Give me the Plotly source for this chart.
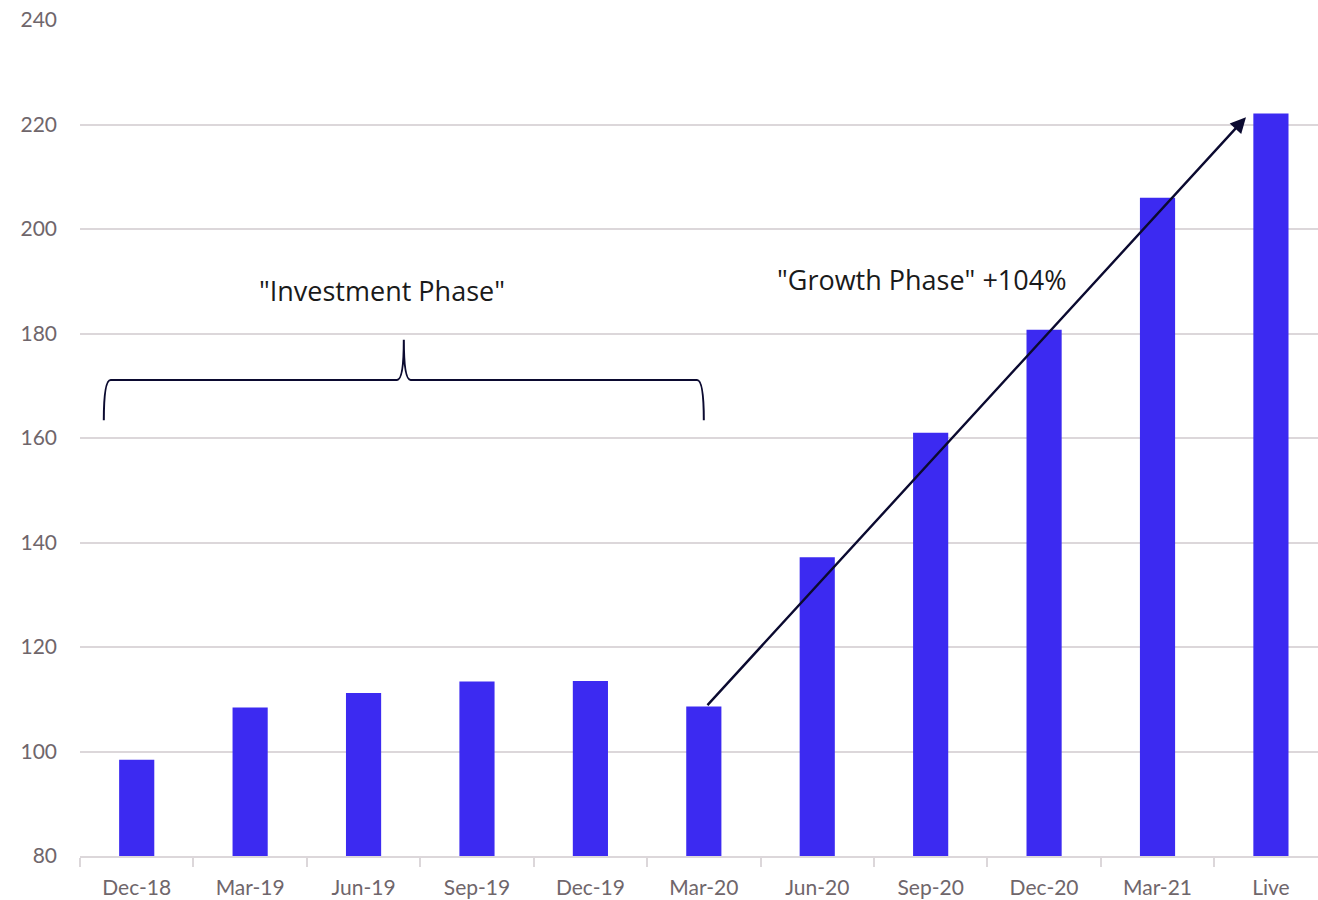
import plotly.graph_objects as go

# Quarterly values
categories = ["Dec-18", "Mar-19", "Jun-19", "Sep-19", "Dec-19", "Mar-20",
              "Jun-20", "Sep-20", "Dec-20", "Mar-21", "Live"]
values = [98.4, 108.4, 111.2, 113.4, 113.5, 108.6, 137.2, 161.0, 180.7, 206.0, 222.1]
y_ticks = [80, 100, 120, 140, 160, 180, 200, 220, 240]
phase_labels = ['"Investment Phase"', '"Growth Phase" +104%']

BAR = "#3c2af1"
GRID = "#dcd7da"
TICKTXT = "#6f666b"
INK = "#0b0a30"

xs = list(range(len(categories)))

fig = go.Figure()
fig.add_trace(go.Bar(x=xs, y=values, marker=dict(color=BAR, line=dict(width=0)),
                     width=0.31, hoverinfo="skip"))

# curly brace over the investment phase (Dec-18 .. Mar-20)
xL, xR = -0.29, 5.0
xm = (xL + xR) / 2
yb, yh, yp = 163.4, 171.1, 178.8
dx = 0.06
brace = (f"M {xL},{yb} Q {xL},{yh} {xL+dx},{yh} L {xm-dx},{yh} "
         f"Q {xm},{yh} {xm},{yp} Q {xm},{yh} {xm+dx},{yh} "
         f"L {xR-dx},{yh} Q {xR},{yh} {xR},{yb}")
fig.add_shape(type="path", path=brace, xref="x", yref="y",
              line=dict(color=INK, width=2))

# growth arrow from Mar-20 to Live
start_i, end_i = categories.index("Mar-20"), categories.index("Live")
fig.add_annotation(x=end_i - 0.22, y=values[end_i] - 0.7,
                   ax=start_i + 0.02, ay=values[start_i],
                   xref="x", yref="y", axref="x", ayref="y",
                   showarrow=True, arrowhead=2, arrowsize=1.3, arrowwidth=2.4,
                   arrowcolor=INK, text="")

fig.add_annotation(x=2.16, y=188.3, xref="x", yref="y", showarrow=False,
                   text=phase_labels[0],
                   font=dict(family="Open Sans", size=27, color="#1a1a1a"))
fig.add_annotation(x=6.92, y=190.3, xref="x", yref="y", showarrow=False,
                   text=phase_labels[1],
                   font=dict(family="Open Sans", size=27, color="#1a1a1a"))

fig.update_layout(
    width=1318, height=900,
    margin=dict(l=80, r=0, t=20, b=44),
    plot_bgcolor="white", paper_bgcolor="white",
    showlegend=False,
    font=dict(family="Lato", color=TICKTXT, size=21),
    xaxis=dict(
        range=[-0.5, 10.415], tickmode="array", tickvals=xs, ticktext=categories,
        ticks="", showgrid=False, zeroline=False,
        showline=True, linecolor=GRID, linewidth=2,
        ticklabelstandoff=12,
        tickfont=dict(size=21, color=TICKTXT),
        minor=dict(tickmode="array", tickvals=[i - 0.5 for i in range(len(categories))],
                   ticks="outside", ticklen=9, tickcolor=GRID, tickwidth=2, showgrid=False),
    ),
    yaxis=dict(
        range=[80, 240], tickmode="array", tickvals=y_ticks,
        showgrid=True, gridcolor=GRID, gridwidth=2, zeroline=False,
        showline=False, ticks="", ticklabelstandoff=22,
        tickfont=dict(size=21, color=TICKTXT),
    ),
)

fig.write_html("out.html")
